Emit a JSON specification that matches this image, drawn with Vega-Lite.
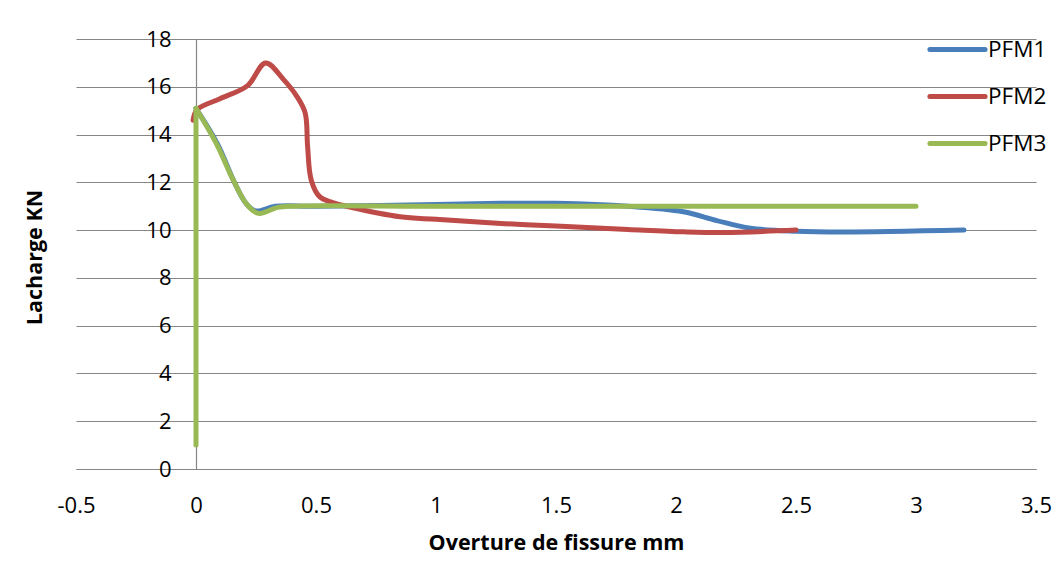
{
  "$schema": "https://vega.github.io/schema/vega-lite/v6.json",
  "width": 960,
  "height": 430,
  "autosize": {"type": "none"},
  "padding": {"left": 76, "top": 39, "right": 25, "bottom": 118},
  "background": "white",
  "config": {"view": {"stroke": null}, "font": "Open Sans"},
  "data": {
    "values": [
      {"series": "PFM1", "part": "a", "i": 1, "x": 0.0, "y": 15.1},
      {"series": "PFM1", "part": "a", "i": 2, "x": 0.09, "y": 13.6},
      {"series": "PFM1", "part": "a", "i": 3, "x": 0.16, "y": 12.0},
      {"series": "PFM1", "part": "a", "i": 4, "x": 0.21, "y": 11.1},
      {"series": "PFM1", "part": "a", "i": 5, "x": 0.25, "y": 10.8},
      {"series": "PFM1", "part": "a", "i": 6, "x": 0.33, "y": 11.0},
      {"series": "PFM1", "part": "a", "i": 7, "x": 0.5, "y": 11.0},
      {"series": "PFM1", "part": "a", "i": 8, "x": 1.0, "y": 11.07},
      {"series": "PFM1", "part": "a", "i": 9, "x": 1.27, "y": 11.12},
      {"series": "PFM1", "part": "a", "i": 10, "x": 1.5, "y": 11.12},
      {"series": "PFM1", "part": "a", "i": 11, "x": 1.8, "y": 11.0},
      {"series": "PFM1", "part": "a", "i": 12, "x": 2.03, "y": 10.77},
      {"series": "PFM1", "part": "a", "i": 13, "x": 2.17, "y": 10.4},
      {"series": "PFM1", "part": "a", "i": 14, "x": 2.31, "y": 10.08},
      {"series": "PFM1", "part": "a", "i": 15, "x": 2.5, "y": 9.95},
      {"series": "PFM1", "part": "a", "i": 16, "x": 2.7, "y": 9.92},
      {"series": "PFM1", "part": "a", "i": 17, "x": 3.2, "y": 10.0},

      {"series": "PFM2", "part": "a", "i": 1, "x": -0.012, "y": 14.6},
      {"series": "PFM2", "part": "a", "i": 2, "x": 0.005, "y": 15.05},
      {"series": "PFM2", "part": "a", "i": 3, "x": 0.1, "y": 15.5},
      {"series": "PFM2", "part": "a", "i": 4, "x": 0.215, "y": 16.05},
      {"series": "PFM2", "part": "a", "i": 5, "x": 0.29, "y": 17.0},
      {"series": "PFM2", "part": "a", "i": 6, "x": 0.365, "y": 16.3},
      {"series": "PFM2", "part": "a", "i": 7, "x": 0.42, "y": 15.6},
      {"series": "PFM2", "part": "a", "i": 8, "x": 0.455, "y": 14.9},
      {"series": "PFM2", "part": "a", "i": 9, "x": 0.465, "y": 13.5},
      {"series": "PFM2", "part": "a", "i": 10, "x": 0.48, "y": 12.1},
      {"series": "PFM2", "part": "a", "i": 11, "x": 0.515, "y": 11.4},
      {"series": "PFM2", "part": "a", "i": 12, "x": 0.57, "y": 11.15},
      {"series": "PFM2", "part": "a", "i": 13, "x": 0.64, "y": 10.97},
      {"series": "PFM2", "part": "a", "i": 14, "x": 0.85, "y": 10.56},
      {"series": "PFM2", "part": "a", "i": 15, "x": 1.0, "y": 10.45},
      {"series": "PFM2", "part": "a", "i": 16, "x": 1.27, "y": 10.28},
      {"series": "PFM2", "part": "a", "i": 17, "x": 1.5, "y": 10.17},
      {"series": "PFM2", "part": "a", "i": 18, "x": 1.8, "y": 10.03},
      {"series": "PFM2", "part": "a", "i": 19, "x": 2.03, "y": 9.93},
      {"series": "PFM2", "part": "a", "i": 20, "x": 2.2, "y": 9.9},
      {"series": "PFM2", "part": "a", "i": 21, "x": 2.5, "y": 10.0},

      {"series": "PFM3", "part": "a", "i": 1, "x": 0.0, "y": 1.0},
      {"series": "PFM3", "part": "a", "i": 2, "x": 0.0, "y": 15.1},
      {"series": "PFM3", "part": "b", "i": 3, "x": 0.0, "y": 15.1},
      {"series": "PFM3", "part": "b", "i": 4, "x": 0.086, "y": 13.6},
      {"series": "PFM3", "part": "b", "i": 5, "x": 0.155, "y": 12.1},
      {"series": "PFM3", "part": "b", "i": 6, "x": 0.21, "y": 11.1},
      {"series": "PFM3", "part": "b", "i": 7, "x": 0.26, "y": 10.7},
      {"series": "PFM3", "part": "b", "i": 8, "x": 0.34, "y": 10.95},
      {"series": "PFM3", "part": "b", "i": 9, "x": 0.4, "y": 11.0},
      {"series": "PFM3", "part": "b", "i": 10, "x": 1.0, "y": 11.0},
      {"series": "PFM3", "part": "b", "i": 11, "x": 2.0, "y": 11.0},
      {"series": "PFM3", "part": "b", "i": 12, "x": 3.0, "y": 11.0}
    ]
  },
  "mark": {
    "type": "line",
    "interpolate": "catmull-rom",
    "strokeWidth": 5,
    "strokeCap": "round",
    "strokeJoin": "round"
  },
  "encoding": {
    "x": {
      "field": "x",
      "type": "quantitative",
      "scale": {"domain": [-0.5, 3.5], "nice": false, "zero": false},
      "axis": {
        "values": [-0.5, 0, 0.5, 1, 1.5, 2, 2.5, 3, 3.5],
        "labelExpr": "'' + datum.value",
        "grid": false,
        "ticks": false,
        "domainColor": "#868686",
        "domainWidth": 1.2,
        "labelFontSize": 22,
        "labelColor": "black",
        "labelPadding": 26,
        "labelFlush": false,
        "title": "Overture de fissure mm",
        "titleFontSize": 21.5,
        "titleFontWeight": "bold",
        "titleColor": "black",
        "titleX": 480,
        "titleY": 74,
        "titleAlign": "center",
        "titleBaseline": "middle"
      }
    },
    "y": {
      "field": "y",
      "type": "quantitative",
      "scale": {"domain": [0, 18], "nice": false},
      "axis": {
        "values": [0, 2, 4, 6, 8, 10, 12, 14, 16, 18],
        "offset": -120,
        "grid": true,
        "gridColor": "#868686",
        "gridWidth": 1.2,
        "ticks": false,
        "domainColor": "#868686",
        "domainWidth": 1.2,
        "labelFontSize": 22,
        "labelColor": "black",
        "labelPadding": 25,
        "title": "Lacharge KN",
        "titleFontSize": 21.5,
        "titleFontWeight": "bold",
        "titleColor": "black",
        "titleAngle": -90,
        "titleX": -161,
        "titleY": 218,
        "titleAlign": "center",
        "titleBaseline": "middle"
      }
    },
    "color": {
      "field": "series",
      "type": "nominal",
      "scale": {
        "domain": ["PFM1", "PFM2", "PFM3"],
        "range": ["#4A7EBB", "#BE4B48", "#98B954"]
      },
      "legend": {
        "orient": "none",
        "legendX": 855,
        "legendY": -16,
        "title": null,
        "padding": 0,
        "rowPadding": 9,
        "symbolType": "M-1.15,0H1.15",
        "symbolSize": 2304,
        "symbolStrokeWidth": 5,
        "labelFontSize": 22.5,
        "labelColor": "black",
        "labelOffset": 4,
        "encode": {"symbols": {"update": {"strokeCap": {"value": "round"}}}}
      }
    },
    "detail": {"field": "part", "type": "nominal"},
    "order": {"field": "i", "type": "quantitative"}
  }
}
